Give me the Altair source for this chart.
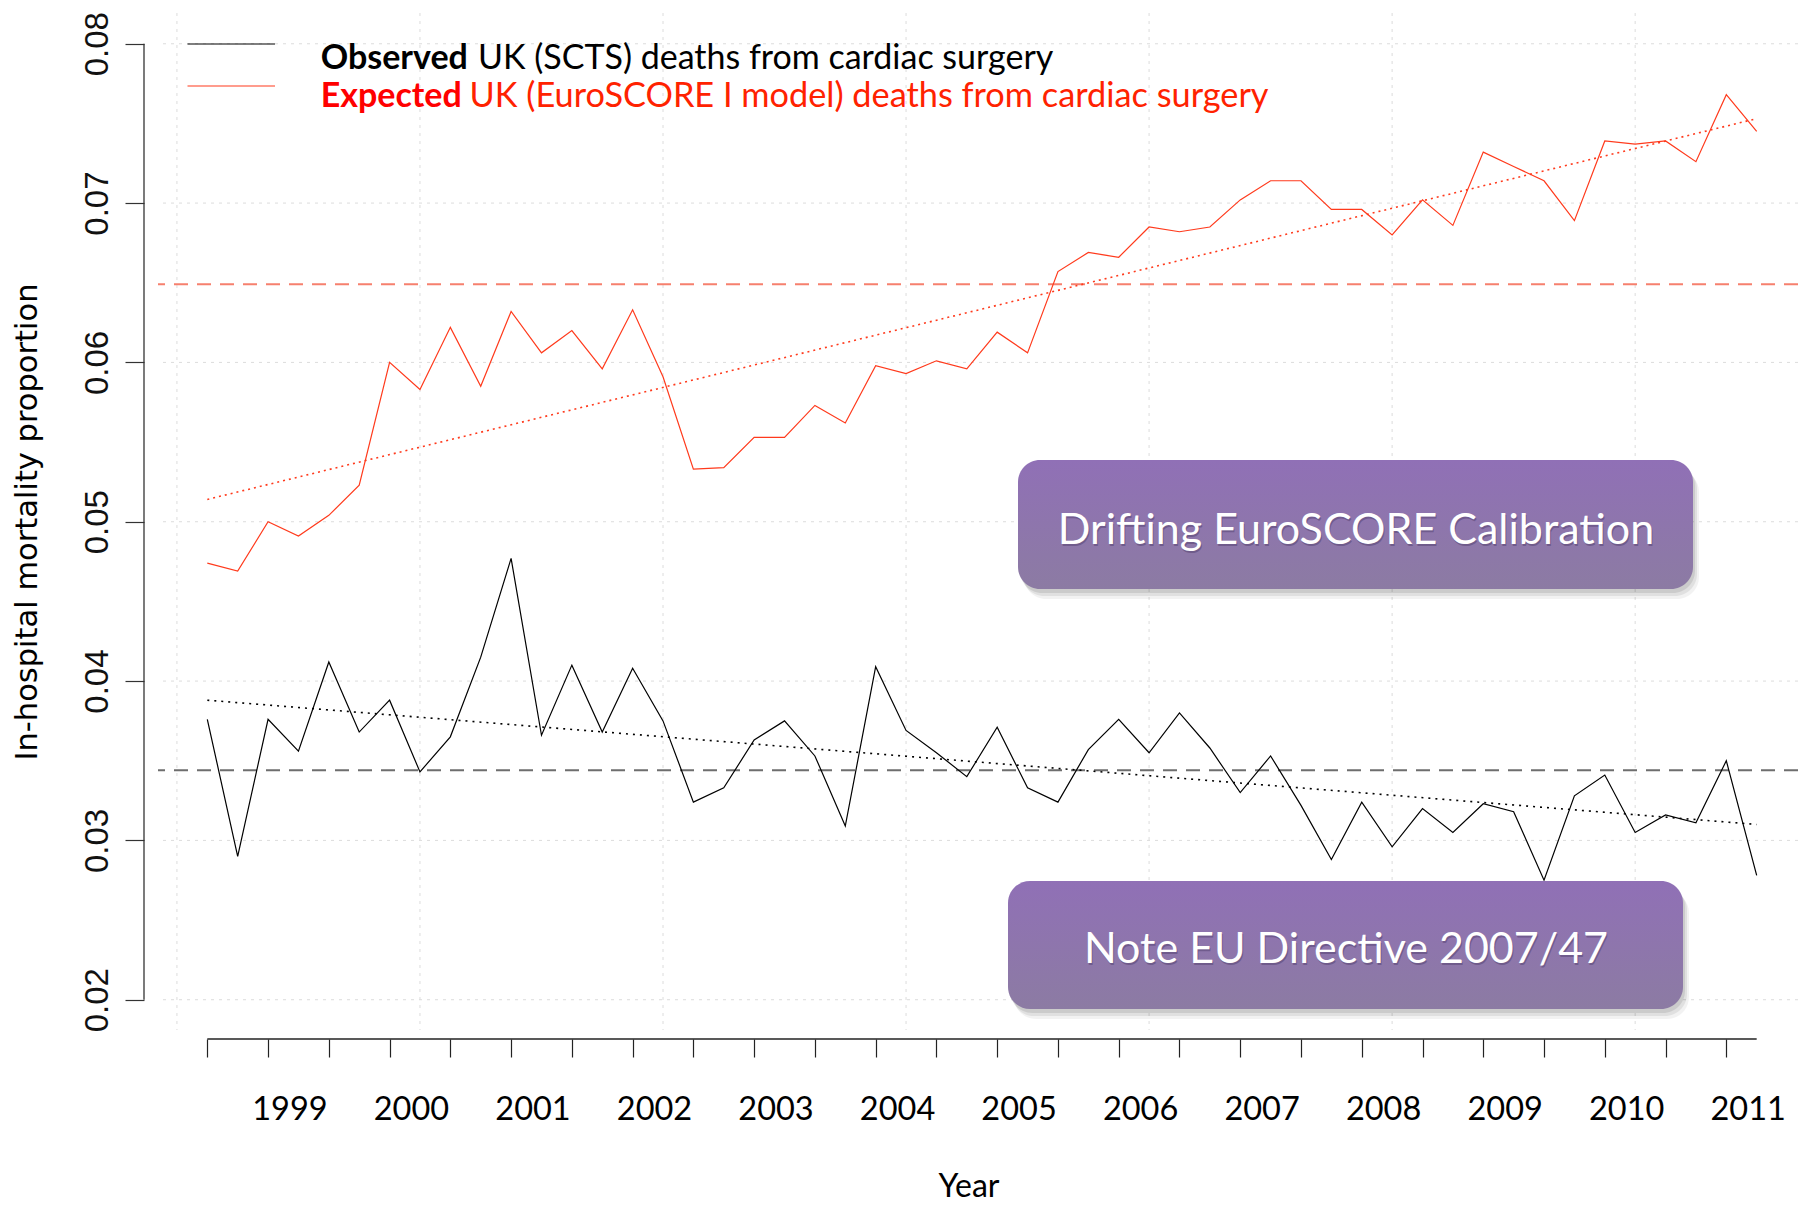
import altair as alt
import pandas as pd

# ---------------- data ----------------
quarters = list(range(52))
observed = [0.0376, 0.0290, 0.0376, 0.0356, 0.0412, 0.0368, 0.0388, 0.0343, 0.0365, 0.0415,
            0.0477, 0.0366, 0.0410, 0.0368, 0.0408, 0.0375, 0.0324, 0.0333, 0.0363, 0.0375,
            0.0353, 0.0309, 0.0409, 0.0369, 0.0355, 0.0340, 0.0371, 0.0333, 0.0324, 0.0357,
            0.0376, 0.0355, 0.0380, 0.0358, 0.0330, 0.0353, 0.0322, 0.0288, 0.0324, 0.0296,
            0.0320, 0.0305, 0.0323, 0.0318, 0.0275, 0.0328, 0.0341, 0.0305, 0.0316, 0.0311,
            0.0350, 0.0278]
expected = [0.0474, 0.0469, 0.0500, 0.0491, 0.0504, 0.0523, 0.0600, 0.0583, 0.0622, 0.0585,
            0.0632, 0.0606, 0.0620, 0.0596, 0.0633, 0.0591, 0.0533, 0.0534, 0.0553, 0.0553,
            0.0573, 0.0562, 0.0598, 0.0593, 0.0601, 0.0596, 0.0619, 0.0606, 0.0657, 0.0669,
            0.0666, 0.0685, 0.0682, 0.0685, 0.0702, 0.0714, 0.0714, 0.0696, 0.0696, 0.0680,
            0.0702, 0.0686, 0.0732, 0.0723, 0.0714, 0.0689, 0.0739, 0.0737, 0.0739, 0.0726,
            0.0768, 0.0745]
trend_x = [0, 51]
observed_trend = [0.0388, 0.0310]
expected_trend = [0.0514, 0.0753]
observed_mean = 0.0344
expected_mean = 0.0649
year_labels = ["1999", "2000", "2001", "2002", "2003", "2004", "2005",
               "2006", "2007", "2008", "2009", "2010", "2011"]
year_label_pos = [2.72, 6.72, 10.72, 14.72, 18.72, 22.72, 26.72,
                  30.72, 34.72, 38.72, 42.72, 46.72, 50.72]
grid_x = [-1, 7, 15, 23, 31, 39, 47]
grid_y = [0.02, 0.03, 0.04, 0.05, 0.06, 0.07, 0.08]
axis_start, axis_end = 0, 51
y_axis_lo, y_axis_hi = 0.02, 0.08

# ---------------- styling ----------------
RED = "#FF3A1C"
RED_TEXT = "#FF2200"
LABEL_FONT = "Lato"
NUM_FONT = "Liberation Sans"
TITLE_FONT = "DejaVu Sans"

xs = alt.Scale(domain=[-1.623, 52.36], nice=False, zero=False)
ys = alt.Scale(domain=[0.0181, 0.08193], nice=False, zero=False)

xaxis = alt.Axis(values=quarters, labels=False, domain=False, grid=False, ticks=True,
                 tickSize=18, tickColor="#222222", tickWidth=1.2, offset=9, title=None)
yaxis = alt.Axis(values=grid_y, format=".2f", domain=False, grid=False, ticks=True,
                 tickSize=19, tickColor="#333333", tickWidth=1.2, offset=14, title=None,
                 labelAngle=270, labelAlign="center", labelBaseline="alphabetic",
                 labelPadding=18, labelFont=NUM_FONT, labelFontSize=33, labelColor="#111111")

df = pd.DataFrame({"q": quarters, "observed": observed, "expected": expected})
df_trend = pd.DataFrame({"q": trend_x, "obs": observed_trend, "exp": expected_trend})
one = pd.DataFrame({"a": [0]})

gridx = alt.Chart(pd.DataFrame({"gx": grid_x})).mark_rule(
    color="#DCDCDC", strokeDash=[3, 5], strokeWidth=1
).encode(x=alt.X("gx:Q", scale=xs, axis=xaxis))

gridy = alt.Chart(pd.DataFrame({"gy": grid_y})).mark_rule(
    color="#DCDCDC", strokeDash=[3, 5], strokeWidth=1
).encode(y=alt.Y("gy:Q", scale=ys, axis=yaxis))

mean_obs = alt.Chart(one).mark_rule(color="#6E6E6E", strokeDash=[14, 9], strokeWidth=2).encode(
    y=alt.datum(observed_mean, scale=ys))
mean_exp = alt.Chart(one).mark_rule(color="#F6806E", strokeDash=[14, 9], strokeWidth=2).encode(
    y=alt.datum(expected_mean, scale=ys))

trend_obs = alt.Chart(df_trend).mark_line(color="#000000", strokeDash=[2, 5], strokeWidth=1.6).encode(
    x=alt.X("q:Q", scale=xs, axis=xaxis), y=alt.Y("obs:Q", scale=ys, axis=yaxis))
trend_exp = alt.Chart(df_trend).mark_line(color=RED, strokeDash=[2, 4], strokeWidth=1.6).encode(
    x=alt.X("q:Q", scale=xs, axis=xaxis), y=alt.Y("exp:Q", scale=ys, axis=yaxis))

line_obs = alt.Chart(df).mark_line(color="#000000", strokeWidth=1.2).encode(
    x=alt.X("q:Q", scale=xs, axis=xaxis), y=alt.Y("observed:Q", scale=ys, axis=yaxis))
line_exp = alt.Chart(df).mark_line(color=RED, strokeWidth=1.2).encode(
    x=alt.X("q:Q", scale=xs, axis=xaxis), y=alt.Y("expected:Q", scale=ys, axis=yaxis))

# axis lines (only between first and last tick, as in the reference)
x_domain = alt.Chart(one).mark_rule(color="#222222", strokeWidth=1.3).encode(
    x=alt.datum(axis_start, scale=xs), x2=alt.datum(axis_end), y=alt.value(1026))
y_domain = alt.Chart(one).mark_rule(color="#333333", strokeWidth=1.3).encode(
    y=alt.datum(y_axis_lo, scale=ys), y2=alt.datum(y_axis_hi), x=alt.value(-14))

years = alt.Chart(pd.DataFrame({"pos": year_label_pos, "lab": year_labels})).mark_text(
    font=LABEL_FONT, fontSize=32.5, baseline="alphabetic", align="center", color="#000000"
).encode(x=alt.X("pos:Q", scale=xs, axis=xaxis), y=alt.value(1107), text="lab:N")

x_title = alt.Chart(one).mark_text(
    text="Year", font=LABEL_FONT, fontSize=32, baseline="alphabetic", align="center", color="#000000"
).encode(x=alt.value(811), y=alt.value(1184))

y_title = alt.Chart(one).mark_text(
    text="In-hospital mortality proportion", font=TITLE_FONT, fontSize=30.5, angle=270,
    baseline="alphabetic", align="center", color="#000000"
).encode(x=alt.value(-121.5), y=alt.value(509))

# legend
LEG_SIZE = 34
leg_line_obs = alt.Chart(one).mark_rule(color="#000000", strokeWidth=1.2).encode(
    x=alt.value(29.5), x2=alt.value(117), y=alt.value(31))
leg_line_exp = alt.Chart(one).mark_rule(color=RED, strokeWidth=1.2).encode(
    x=alt.value(29.5), x2=alt.value(117), y=alt.value(73))
leg_t1a = alt.Chart(one).mark_text(text="Observed", font=LABEL_FONT, fontSize=LEG_SIZE, fontWeight="bold",
                                   align="left", baseline="alphabetic", color="#000000").encode(
    x=alt.value(162.7), y=alt.value(55.5))
leg_t1b = alt.Chart(one).mark_text(text="UK (SCTS) deaths from cardiac surgery", font=LABEL_FONT,
                                   fontSize=LEG_SIZE, align="left", baseline="alphabetic",
                                   color="#000000").encode(
    x=alt.value(320), y=alt.value(55.5))
leg_t2a = alt.Chart(one).mark_text(text="Expected", font=LABEL_FONT, fontSize=LEG_SIZE, fontWeight="bold",
                                   align="left", baseline="alphabetic", color="#FF0000").encode(
    x=alt.value(162.7), y=alt.value(93.5))
leg_t2b = alt.Chart(one).mark_text(text="UK (EuroSCORE I model) deaths from cardiac surgery",
                                   font=LABEL_FONT, fontSize=34.3, align="left", baseline="alphabetic",
                                   color=RED_TEXT).encode(
    x=alt.value(311.6), y=alt.value(93.5))

# annotation boxes
grad = alt.Gradient(gradient="linear",
                    stops=[alt.GradientStop(color="#9070B6", offset=0),
                           alt.GradientStop(color="#8C7BA3", offset=1)],
                    x1=0, x2=0, y1=0, y2=1)


def box(x1, x2, y1, y2, label, tx, ty):
    layers = []
    for dx, dy, op in [(6, 10, 0.05), (4, 7, 0.07), (2, 4, 0.09)]:
        layers.append(alt.Chart(one).mark_rect(cornerRadius=22, color="#000000", opacity=op).encode(
            x=alt.value(x1 + dx), x2=alt.value(x2 + dx), y=alt.value(y1 + dy), y2=alt.value(y2 + dy)))
    layers.append(alt.Chart(one).mark_rect(cornerRadius=22, color=grad).encode(
        x=alt.value(x1), x2=alt.value(x2), y=alt.value(y1), y2=alt.value(y2)))
    layers.append(alt.Chart(one).mark_text(text=label, font=LABEL_FONT, fontSize=43, align="center",
                                           baseline="alphabetic", color="#3A2A55", opacity=0.35).encode(
        x=alt.value(tx + 1), y=alt.value(ty + 2)))
    layers.append(alt.Chart(one).mark_text(text=label, font=LABEL_FONT, fontSize=43, align="center",
                                           baseline="alphabetic", color="#FFFFFF").encode(
        x=alt.value(tx), y=alt.value(ty)))
    return layers


box1 = box(860, 1535, 447, 576, "Drifting EuroSCORE Calibration", 1198, 531)
box2 = box(850, 1525, 868, 996, "Note EU Directive 2007/47", 1188, 950)

chart = alt.layer(
    gridx, gridy, mean_obs, mean_exp, trend_obs, trend_exp, line_obs, line_exp,
    x_domain, y_domain, years, x_title, y_title,
    leg_line_obs, leg_line_exp, leg_t1a, leg_t1b, leg_t2a, leg_t2b,
    *box1, *box2
).properties(
    width=1640, height=1017,
    padding={"left": 150, "top": 5, "right": 0, "bottom": 173},
    autosize=alt.AutoSizeParams(type="none"),
    background="white",
).configure_view(stroke="transparent", strokeWidth=0)

chart.save("out.html", embed_options={"renderer": "svg", "actions": False})
